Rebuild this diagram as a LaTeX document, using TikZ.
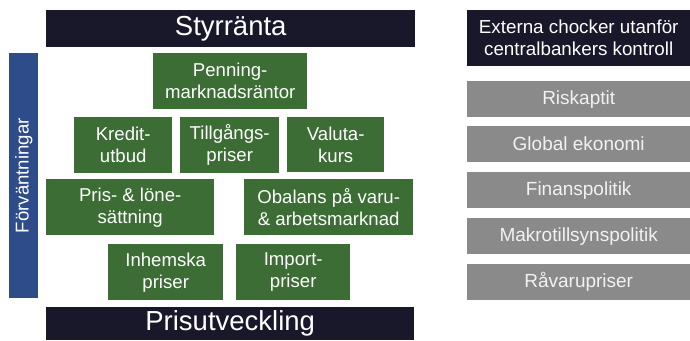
\documentclass[tikz,border=0pt]{standalone}
\usepackage{fontspec}
\setmainfont{Liberation Sans}
\definecolor{barblack}{HTML}{19172A}
\definecolor{boxgreen}{HTML}{3B6D34}
\definecolor{barblue}{HTML}{2E4B8A}
\definecolor{boxgray}{HTML}{8A8A8A}
\tikzset{
  base/.style={anchor=north west, inner sep=0pt, align=center, text=white},
  blackbar/.style={base, fill=barblack, font=\fontsize{27.5}{30}\selectfont},
  greenbox/.style={base, fill=boxgreen, font=\fontsize{18.6}{22}\selectfont},
  extbox/.style={base, fill=barblack, font=\fontsize{18.8}{22}\selectfont},
  graybox/.style={base, fill=boxgray, text=white!95!black, font=\fontsize{19}{21}\selectfont},
}
\begin{document}
\begin{tikzpicture}[x=1pt,y=-1pt]
\useasboundingbox (0,0) rectangle (690,340);
% left part
\node[blackbar, minimum width=369pt, minimum height=37pt] (styr) at (46,10) {Styrränta};
\node[blackbar, minimum width=368pt, minimum height=33pt] (prisutv) at (46,307) {\raisebox{-2pt}{Prisutveckling}};
\node[base, fill=barblue, minimum width=29pt, minimum height=245pt] (forv) at (9,53) {};
\node[rotate=90, text=white, font=\fontsize{18.6}{22}\selectfont, inner sep=0pt] (forvtext) at (forv.center) {Förväntningar};
\node[greenbox, minimum width=154pt, minimum height=56pt] (penning) at (153,53) {Penning-\\marknadsräntor};
\node[greenbox, minimum width=98pt, minimum height=56pt] (kredit) at (74,117) {Kredit-\\utbud};
\node[greenbox, minimum width=99pt, minimum height=56pt] (tillg) at (180,117) {Tillgångs-\\priser};
\node[greenbox, minimum width=97pt, minimum height=55pt] (valuta) at (287,117) {Valuta-\\kurs};
\node[greenbox, minimum width=168pt, minimum height=56pt] (pris) at (46,179) {Pris- \& löne-\\sättning};
\node[greenbox, minimum width=169pt, minimum height=56pt] (obalans) at (244,179) {Obalans på varu-\\\& arbetsmarknad};
\node[greenbox, minimum width=115pt, minimum height=56pt] (inhemska) at (108,244) {Inhemska\\priser};
\node[greenbox, minimum width=114pt, minimum height=56pt] (import) at (236,244) {Import-\\priser};
% right part
\node[extbox, minimum width=223pt, minimum height=56pt] (externa) at (467,10) {Externa chocker utanför\\centralbankers kontroll};
\node[graybox, minimum width=223pt, minimum height=36pt] (risk) at (467,81) {Riskaptit};
\node[graybox, minimum width=223pt, minimum height=36pt] (global) at (467,126) {Global ekonomi};
\node[graybox, minimum width=223pt, minimum height=36pt] (finans) at (467,172) {Finanspolitik};
\node[graybox, minimum width=223pt, minimum height=36pt] (makro) at (467,218) {Makrotillsynspolitik};
\node[graybox, minimum width=223pt, minimum height=36pt] (ravaru) at (467,264) {Råvarupriser};
\end{tikzpicture}
\end{document}
